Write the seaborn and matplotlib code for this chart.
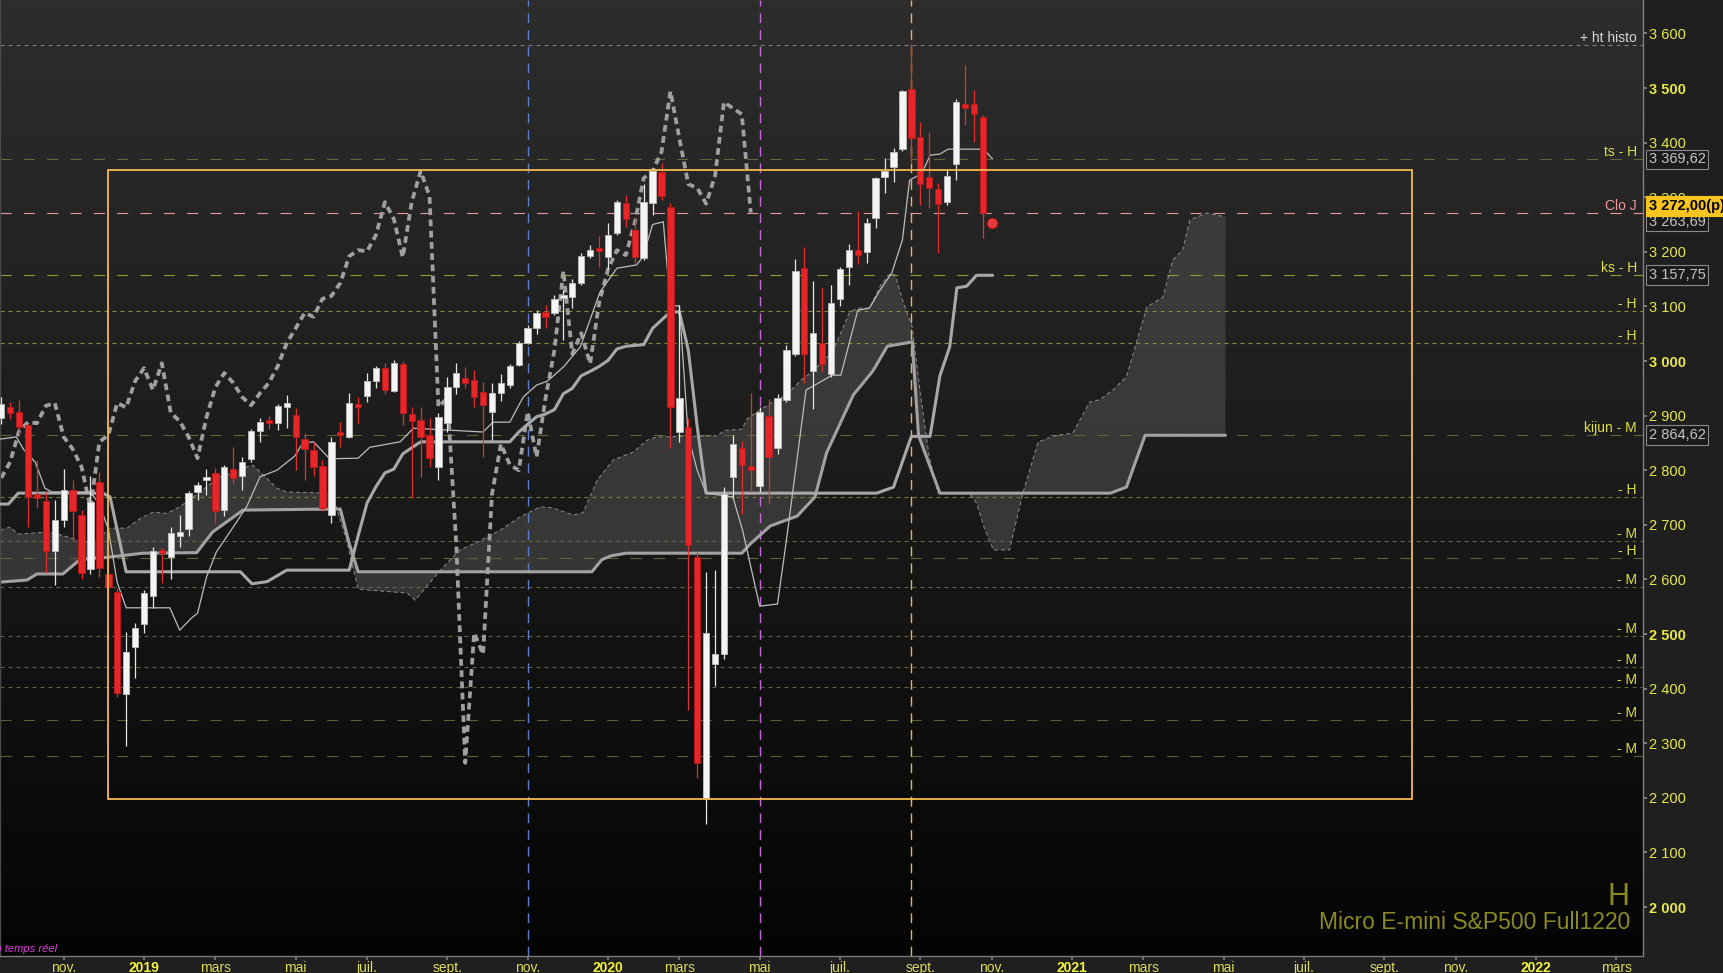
import numpy as np
import pandas as pd
import matplotlib
matplotlib.use("Agg")
import matplotlib.pyplot as plt
import matplotlib.dates as mdates
from matplotlib.patches import Rectangle
from matplotlib.colors import LinearSegmentedColormap
import seaborn as sns

# --- bougies hebdo Micro E-mini S&P500 (lundi de chaque semaine) ---
semaines = pd.date_range("2018-09-17", "2020-10-26", freq="W-MON")

ouv = [2895, 2915, 2906, 2883, 2755, 2744, 2652, 2709, 2764, 2718, 2619, 2778, 2610, 2577, 2390, 2476,
       2518, 2570, 2652, 2641, 2679, 2692, 2760, 2782, 2795, 2727, 2802, 2789, 2821, 2872, 2889, 2886,
       2916, 2901, 2857, 2837, 2808, 2718, 2867, 2861, 2919, 2936, 2963, 2987, 2945, 2994, 2903, 2892,
       2864, 2806, 2886, 2952, 2969, 2965, 2943, 2907, 2941, 2956, 2993, 3033, 3060, 3090, 3088, 3115,
       3117, 3143, 3192, 3203,
       3190, 3234, 3289, 3240, 3189, 3289, 3346, 3282, 2870, 2880, 2641, 2200, 2445, 2463, 2788, 2841,
       2808, 2771, 2899, 2841, 2929, 3013, 3170, 2982, 3033, 2976, 3114, 3172, 3203, 3200, 3262, 3337,
       3355, 3388, 3498, 3410, 3337, 3315, 3291, 3361, 3471, 3471, 3447]
haut = [2935, 2925, 2929, 2885, 2819, 2760, 2745, 2802, 2782, 2727, 2790, 2797, 2640, 2585, 2504, 2520,
        2580, 2659, 2658, 2696, 2718, 2762, 2778, 2802, 2804, 2810, 2842, 2825, 2875, 2896, 2899, 2921,
        2938, 2914, 2868, 2851, 2818, 2861, 2888, 2941, 2934, 2978, 2991, 2996, 3002, 3000, 2916, 2916,
        2895, 2905, 2971, 2996, 2989, 2983, 2962, 2960, 2976, 2995, 3037, 3066, 3093, 3103, 3120, 3130,
        3150, 3197, 3212, 3229,
        3253, 3294, 3304, 3264, 3324, 3353, 3363, 3290, 3103, 2895, 2650, 2614, 2617, 2770, 2865, 2853,
        2941, 2915, 2930, 2940, 3030, 3187, 3209, 3147, 3134, 3140, 3172, 3215, 3275, 3262, 3337, 3372,
        3390, 3497, 3581, 3438, 3419, 3326, 3352, 3480, 3542, 3496, 3450]
bas = [2885, 2893, 2862, 2696, 2731, 2612, 2590, 2696, 2672, 2601, 2610, 2604, 2565, 2385, 2295, 2419,
       2502, 2548, 2593, 2601, 2659, 2680, 2745, 2755, 2703, 2716, 2775, 2764, 2815, 2852, 2875, 2874,
       2877, 2800, 2782, 2790, 2725, 2703, 2842, 2859, 2886, 2925, 2950, 2940, 2943, 2883, 2750, 2788,
       2805, 2782, 2870, 2940, 2950, 2916, 2824, 2855, 2927, 2950, 2990, 3031, 3050, 3060, 3085, 3038,
       3097, 3140, 3188, 3172,
       3168, 3230, 3245, 3180, 3185, 3267, 3295, 2840, 2852, 2360, 2236, 2152, 2405, 2455, 2750, 2720,
       2760, 2760, 2738, 2830, 2925, 3009, 2960, 2912, 2982, 2970, 3100, 3140, 3178, 3180, 3244, 3308,
       3327, 3385, 3360, 3286, 3280, 3198, 3285, 3331, 3432, 3401, 3225]
clot = [2921, 2905, 2879, 2751, 2750, 2652, 2709, 2764, 2725, 2612, 2742, 2621, 2586, 2392, 2467, 2511,
        2575, 2652, 2648, 2685, 2687, 2758, 2773, 2786, 2725, 2806, 2786, 2815, 2872, 2888, 2886, 2918,
        2923, 2861, 2839, 2806, 2731, 2852, 2864, 2923, 2915, 2963, 2987, 2947, 2996, 2905, 2890, 2861,
        2822, 2897, 2952, 2978, 2960, 2934, 2919, 2941, 2960, 2991, 3033, 3060, 3088, 3081, 3114, 3119,
        3143, 3192, 3203, 3201,
        3231, 3291, 3260, 3190, 3291, 3348, 3302, 2916, 2932, 2663, 2264, 2502, 2463, 2756, 2848, 2810,
        2800, 2907, 2824, 2932, 3020, 3165, 3013, 3051, 2995, 3106, 3168, 3203, 3194, 3253, 3335, 3348,
        3383, 3494, 3408, 3324, 3317, 3288, 3339, 3474, 3463, 3452, 3272]

# --- ichimoku : semaine (0 = 07/01/2019) et prix ---
tenkan_sem = [-16.1, -14.3, -13.5, -12.2, -11.1, -10.3, -6, -5, -4, -3, -2, 2.9, 4, 5.3, 6, 7, 8.1, 10,
              11.5, 13, 14.9, 16.9, 17.8, 19, 20.8, 24, 25.3, 28.7, 30.2, 38, 39.1, 41, 42.5, 44, 45.2,
              47, 48.9, 51.1, 53, 55.2, 55.9, 57, 58.2, 59, 60, 61, 62, 63, 66, 67.1, 69, 71, 72, 74.2,
              75.2, 77.1, 78.1, 80, 81.3, 82.5, 83.8, 85, 85.8, 87.2, 88.1, 89.2, 90.1, 94.1, 95.1]
tenkan_val = [2857, 2861, 2838, 2815, 2767, 2760, 2760, 2738, 2692, 2594, 2548, 2548, 2507, 2529, 2538,
              2604, 2650, 2696, 2733, 2788, 2800, 2826, 2850, 2852, 2821, 2822, 2842, 2852, 2877, 2870,
              2888, 2888, 2934, 2956, 2963, 2989, 3026, 3126, 3170, 3176, 3190, 3250, 3255, 3101, 3101,
              2862, 2800, 2758, 2751, 2689, 2551, 2555, 2672, 2947, 2956, 2974, 2974, 3093, 3097, 3130,
              3161, 3222, 3331, 3344, 3377, 3379, 3388, 3388, 3370]

kijun_sem = [-16.1, -15.2, -14.1, -4.6, -3.8, -2, 10.8, 12.1, 13.8, 16, 23, 24, 25, 26, 27, 28, 29, 30,
             31, 41, 42, 43, 44, 45, 46, 47, 48, 49, 50, 51, 52, 53, 54, 56, 57, 58, 59, 60, 61, 62, 63,
             82.1, 84, 86, 88.1, 89.2, 90.3, 91.1, 92.2, 93.3, 95.1]
kijun_val = [2738, 2738, 2758, 2758, 2751, 2614, 2614, 2592, 2596, 2617, 2617, 2680, 2740, 2770, 2795,
             2802, 2830, 2841, 2852, 2852, 2870, 2884, 2898, 2903, 2911, 2940, 2950, 2973, 2981, 2990,
             3001, 3022, 3027, 3030, 3060, 3075, 3090, 3090, 3020, 2880, 2758, 2758, 2769, 2862, 2862,
             2973, 3026, 3134, 3137, 3157, 3157]

ssb_sem = [-16.1, -13.1, -12, -9.1, -7.2, -5.7, -4.9, -0.1, 5.9, 7.7, 10, 11.1, 22, 23, 24, 50.2, 51.3,
           52.3, 54, 67, 68, 70.2, 73.2, 75.2, 76.5, 79.5, 81.7, 83.3, 86.1, 86.8, 89.2, 108.3, 110.1,
           112.2, 121.2]
ssb_val = [2595, 2599, 2610, 2610, 2636, 2639, 2639, 2648, 2649, 2687, 2714, 2727, 2729, 2666, 2614,
           2614, 2636, 2643, 2648, 2648, 2666, 2698, 2716, 2751, 2832, 2938, 2982, 3027, 3035, 2864,
           2758, 2758, 2769, 2864, 2864]

ssa_sem = [-16.1, -15, -14.1, -12.4, -10.5, -8.6, -7, -5.9, -4.9, -3.8, -1.9, -0.4, 1, 2.6, 4, 5.5, 7,
           8.5, 10, 11.5, 12.2, 13.4, 14.9, 16, 20.8, 21.2, 22.7, 23.4, 24, 29.5, 30.4, 33.1, 35.4, 37.3,
           39.9, 42.1, 44.4, 45.8, 48.1, 49.2, 50.8, 52.6, 54.8, 56.4, 57.5, 64.2, 65.1, 67, 67.6, 69,
           70.9, 72, 73.5, 75, 77.2, 79.1, 80.2, 81.3, 82.6, 83.7, 84.2, 85, 86.1, 87, 88, 89, 92.5,
           93.3, 94.2, 95.2, 97, 98.5, 100.2, 102.3, 104.1, 106, 107.1, 108.6, 110.1, 112.4, 114.2,
           115.3, 116.4, 117.2, 119.1, 121.2]
ssa_val = [2690, 2696, 2683, 2685, 2687, 2678, 2670, 2668, 2678, 2694, 2694, 2712, 2723, 2721, 2733,
           2751, 2769, 2788, 2795, 2806, 2809, 2791, 2767, 2760, 2758, 2751, 2672, 2623, 2582, 2575,
           2562, 2615, 2654, 2668, 2690, 2714, 2733, 2731, 2718, 2722, 2782, 2819, 2833, 2855, 2861,
           2863, 2873, 2875, 2894, 2910, 2929, 2937, 2963, 2982, 3018, 3090, 3097, 3097, 3140, 3161,
           3157, 3112, 3062, 2941, 2825, 2758, 2758, 2740, 2693, 2654, 2654, 2758, 2852, 2864, 2868,
           2925, 2929, 2947, 2971, 3099, 3117, 3185, 3203, 3258, 3271, 3264]

decalage_chikou = 26

# --- niveaux horizontaux ---
niveaux = [3578, 3369.62, 3272.0, 3157.75, 3092, 3033, 2864.62, 2751, 2670, 2639, 2586, 2496,
           2440, 2403, 2342, 2277]
noms_niveaux = ["+ ht histo", "ts - H", "Clo J", "ks - H", "- H", "- H", "kijun - M", "- H", "- M",
                "- H", "- M", "- M", "- M", "- M", "- M", "- M"]
traits_niveaux = ["court", "long", "long", "long", "court", "court", "long", "court", "court",
                  "long", "court", "court", "court", "court", "long", "long"]
couleurs_niveaux = ["#7f7f7f", "#66663a", "#e89a9a", "#9a9a32", "#8e8e3a", "#8e8e3a", "#626236",
                    "#7a7a3a", "#62623c", "#626236", "#62623c", "#62623c", "#62623c", "#62623c",
                    "#5e5e36", "#5e5e36"]

prix_cadres = [3369.62, 3263.69, 3157.75, 2864.62]
dernier_cours = 3272.00

dates_verticales = ["2019-11-04", "2020-05-04", "2020-08-31"]
couleurs_verticales = ["#5b7fd0", "#c866dc", "#e8b84a"]

cadre_semaines = [-4, 142.1]
cadre_prix = [2198, 3349]

signal_semaine = 95
signal_prix = 3253

titre = "Micro E-mini S&P500 Full1220"


def sem(w):
    return mdates.date2num(pd.Timestamp("2019-01-07")) + 7 * np.asarray(w, dtype=float)


def fr(v, dec=False):
    n = int(v)
    s = f"{n // 1000} {n % 1000:03d}"
    if dec:
        s += f",{int(round((v - n) * 100)):02d}"
    return s


sns.set_theme(style="dark")
plt.rcParams["font.family"] = ["Liberation Sans", "DejaVu Sans"]

fig = plt.figure(figsize=(17.23, 9.73), dpi=100, facecolor="#1f1f1f")
ax = fig.add_axes([0, 17 / 973, 1643 / 1723, 956 / 973])
ax.set_facecolor("#1a1a1a")
ax.grid(False)

# fond degrade
fond = LinearSegmentedColormap.from_list("fond", ["#2d2d2d", "#1b1b1b", "#040404"])
ax.imshow(np.linspace(0, 1, 256).reshape(-1, 1), cmap=fond, aspect="auto",
          extent=[0, 1, 0, 1], transform=ax.transAxes, zorder=0, origin="upper")

# nuage
cx = np.concatenate([sem(ssa_sem), sem(ssb_sem)[::-1]])
cy = np.concatenate([ssa_val, ssb_val[::-1]])
ax.fill(cx, cy, color="#4c4c4c", alpha=0.6, lw=0, zorder=1)

# niveaux
for niv, nom, trait, coul in zip(niveaux, noms_niveaux, traits_niveaux, couleurs_niveaux):
    style = (0, (10, 11)) if trait == "long" else (0, (3.6, 3.6))
    ax.axhline(niv, color=coul, lw=0.8, linestyle=style, zorder=1.5)
    if nom == "Clo J":
        ctexte = "#f09a9a"
    elif nom.startswith("+"):
        ctexte = "#d6d6d6"
    else:
        ctexte = "#dede46"
    ax.annotate(nom, xy=(0.9963, niv), xycoords=("axes fraction", "data"), ha="right",
                va="bottom", color=ctexte, fontsize=10, zorder=8)

# verticales
for d, coul in zip(dates_verticales, couleurs_verticales):
    ax.axvline(mdates.date2num(pd.Timestamp(d)), color=coul, lw=1, linestyle=(0, (7, 5)), zorder=1.6)

# ichimoku
xb = mdates.date2num(semaines.values)
sns.lineplot(x=xb[:-decalage_chikou], y=clot[decalage_chikou:], ax=ax, color="#a0a0a0", lw=2.7,
             linestyle=(0, (1.8, 1.2)), estimator=None, sort=False, zorder=2)
sns.lineplot(x=sem(ssa_sem), y=ssa_val, ax=ax, color="#8c8c8c", lw=0.7, linestyle=(0, (4, 3)),
             estimator=None, sort=False, zorder=2)
sns.lineplot(x=sem(ssb_sem), y=ssb_val, ax=ax, color="#a2a2a2", lw=2.2, estimator=None, sort=False,
             zorder=2.5)
sns.lineplot(x=sem(kijun_sem), y=kijun_val, ax=ax, color="#a8a8a8", lw=2.2, estimator=None,
             sort=False, zorder=2.6)
sns.lineplot(x=sem(tenkan_sem), y=tenkan_val, ax=ax, color="#bcbcbc", lw=0.9, estimator=None,
             sort=False, zorder=2.7)

# bougies
o, h, l, c = (np.array(v, dtype=float) for v in (ouv, haut, bas, clot))
hausse = c >= o
ax.vlines(xb, l, h, colors=np.where(hausse, "#e6e6e6", "#e23030"), lw=0.9, zorder=4)
ax.bar(xb, np.maximum(np.abs(c - o), 6), bottom=np.minimum(o, c), width=5,
       color=np.where(hausse, "#f4f4f4", "#e8262a"), edgecolor=np.where(hausse, "#bdbdbd", "#b81a1a"),
       lw=0.6, zorder=5)

# cadre orange
x0, x1 = sem(cadre_semaines)
ax.add_patch(Rectangle((x0, cadre_prix[0]), x1 - x0, cadre_prix[1] - cadre_prix[0], fill=False,
                       ec="#f5b94f", lw=1.3, zorder=6))

# signal
ax.plot(sem(signal_semaine), signal_prix, "o", ms=8, mfc="#e43a3a", mec="#6e1010", mew=0.8, zorder=7)

# axes
ax.set_xlim(sem(-16.14), sem(168.0))
ax.set_ylim(1910.3, 3661.2)

debuts = pd.date_range("2018-11-01", "2022-03-01", freq="2MS")
lundis = pd.DatetimeIndex([d + pd.Timedelta(days=(7 - d.weekday()) % 7) for d in debuts])
mois_fr = {3: "mars", 5: "mai", 7: "juil.", 9: "sept.", 11: "nov."}
ax.set_xticks(mdates.date2num(lundis.values))
ax.set_xticklabels([str(d.year) if d.month == 1 else mois_fr[d.month] for d in lundis])
ax.tick_params(axis="x", bottom=True, length=3, color="#7a7a7a", labelcolor="#dcdc5a",
               labelsize=10, pad=0.5)
for lbl in ax.get_xticklabels():
    if lbl.get_text().isdigit():
        lbl.set_fontweight("bold")
        lbl.set_color("#f2f23c")

ax.yaxis.tick_right()
yt = list(range(2000, 3601, 100))
ax.set_yticks(yt)
ax.set_yticklabels([fr(v) for v in yt])
ax.tick_params(axis="y", right=True, left=False, length=3, color="#8a8a8a", labelcolor="#e8e84a",
               labelsize=10.5, pad=1.5)
for lbl, v in zip(ax.get_yticklabels(), yt):
    if v % 500 == 0:
        lbl.set_fontweight("bold")

ax.spines["top"].set_visible(False)
ax.spines["right"].set_color("#808080")
ax.spines["bottom"].set_color("#7a7a7a")
ax.spines["left"].set_color("#4a4a4a")
for cote in ["right", "bottom", "left"]:
    ax.spines[cote].set_linewidth(1)

# prix encadres
decal = {3263.69: -3.4}
for p in prix_cadres:
    ax.annotate(fr(p, True), xy=(1, p), xycoords=("axes fraction", "data"),
                xytext=(4, decal.get(p, 0)), textcoords="offset points", ha="left", va="center",
                color="#c4c4c4", fontsize=10.5, annotation_clip=False, zorder=10,
                bbox=dict(boxstyle="square,pad=0.18", fc="#1b1b1b", ec="#8a8a8a", lw=0.8))
ax.annotate(fr(dernier_cours, True) + "(p)", xy=(1, dernier_cours), xycoords=("axes fraction", "data"),
            xytext=(4, 4.7), textcoords="offset points", ha="left", va="center", color="black",
            fontsize=10.5, fontweight="bold", annotation_clip=False, zorder=11,
            bbox=dict(boxstyle="square,pad=0.18", fc="#f7c51e", ec="#f7c51e", lw=0.8))

# textes
ax.text(0.992, 0.0533, "H", transform=ax.transAxes, ha="right", va="baseline", fontsize=22,
        color="#8a8a22", zorder=9)
ax.text(0.992, 0.0282, titre, transform=ax.transAxes, ha="right", va="baseline", fontsize=16.5,
        color="#8a8a22", zorder=9)
ax.text(0.0347, 0.004, "En temps réel", transform=ax.transAxes, ha="right", va="baseline",
        fontsize=8, style="italic", color="#e040e0", zorder=9)

ax.set_xlabel("")
ax.set_ylabel("")
fig.savefig("out.png", dpi=100, facecolor=fig.get_facecolor())
